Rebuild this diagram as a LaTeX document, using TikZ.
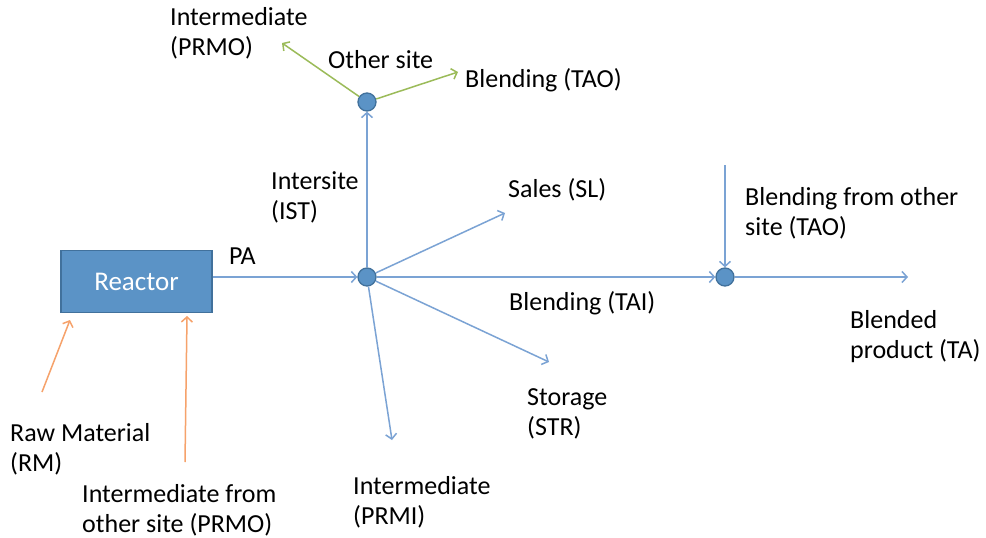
\documentclass[tikz,border=0pt]{standalone}
\usepackage{fontspec}
\setmainfont{Carlito}
\usetikzlibrary{arrows.meta}
\definecolor{flow}{HTML}{7BA3D4}
\definecolor{boxfill}{HTML}{5B93C6}
\definecolor{boxline}{HTML}{41719C}
\definecolor{orangeln}{HTML}{F6A26B}
\definecolor{greenln}{HTML}{9BBB59}
\begin{document}
\begin{tikzpicture}[x=1pt,y=-1pt,
  lbl/.style={anchor=north west,inner sep=0pt,align=left,font=\fontsize{26}{30}\selectfont},
  arr/.style={line width=1.5pt,-{Straight Barb[length=5pt,width=11pt]}},
  bluearr/.style={arr,draw=flow},
  orangearr/.style={arr,draw=orangeln},
  greenarr/.style={arr,draw=greenln},
  junction/.style={circle,minimum size=18pt,inner sep=0pt,fill=boxfill,draw=boxline,line width=1.3pt},
  reactorbox/.style={rectangle,minimum width=151pt,minimum height=62pt,fill=boxfill,draw=boxline,line width=1.5pt,text=white,font=\fontsize{27}{30}\selectfont}
]
\useasboundingbox (0,0) rectangle (986,538);
\fill[white] (0,0) rectangle (986,538);

% nodes
\node[reactorbox] (reactor) at (136.5,281.5) {Reactor};
\node[junction] (hub) at (367,277) {};
\node[junction] (top) at (367,102) {};
\node[junction] (blend) at (725,277) {};

% free ends
\coordinate (prmoEnd) at (282,43);
\coordinate (taoEnd) at (458,72);
\coordinate (slEnd) at (505,213);
\coordinate (strEnd) at (549,362);
\coordinate (prmiEnd) at (392,440);
\coordinate (taEnd) at (908,277);
\coordinate (taoIn) at (725,165);
\coordinate (rmStart) at (42,392);
\coordinate (rmEnd) at (70,320);
\coordinate (prmoStart) at (185,462);
\coordinate (prmoInEnd) at (187,316);

% connectors
\draw[bluearr] (reactor.east |- hub) -- (hub);
\draw[bluearr] (hub) -- (top);
\draw[greenarr] (top) -- (prmoEnd);
\draw[greenarr] (top) -- (taoEnd);
\draw[bluearr] (hub) -- (slEnd);
\draw[bluearr] (hub) -- (blend);
\draw[bluearr] (hub) -- (strEnd);
\draw[bluearr] (hub) -- (prmiEnd);
\draw[bluearr] (taoIn) -- (blend);
\draw[bluearr] (blend) -- (taEnd);
\draw[orangearr] (rmStart) -- (rmEnd);
\draw[orangearr] (prmoStart) -- (prmoInEnd);

% labels
\node[lbl] (lPA) at (229,248) {PA};
\node[lbl] (lPRMO) at (170,7) {Intermediate\\(PRMO)};
\node[lbl] (lOther) at (328,50) {Other site};
\node[lbl] (lTAO) at (465,68) {Blending (TAO)};
\node[lbl] (lIST) at (271,171) {Intersite\\(IST)};
\node[lbl] (lSL) at (508,178) {Sales (SL)};
\node[lbl] (lTAI) at (509,291) {Blending (TAI)};
\node[lbl] (lTAOin) at (745,187) {Blending from other\\site (TAO)};
\node[lbl] (lTA) at (850,310) {Blended\\product (TA)};
\node[lbl] (lSTR) at (527,388) {Storage\\(STR)};
\node[lbl] (lPRMI) at (353,476) {Intermediate\\(PRMI)};
\node[lbl] (lRM) at (10,423) {Raw Material\\(RM)};
\node[lbl] (lPRMOin) at (82,484) {Intermediate from\\other site (PRMO)};
\end{tikzpicture}
\end{document}
